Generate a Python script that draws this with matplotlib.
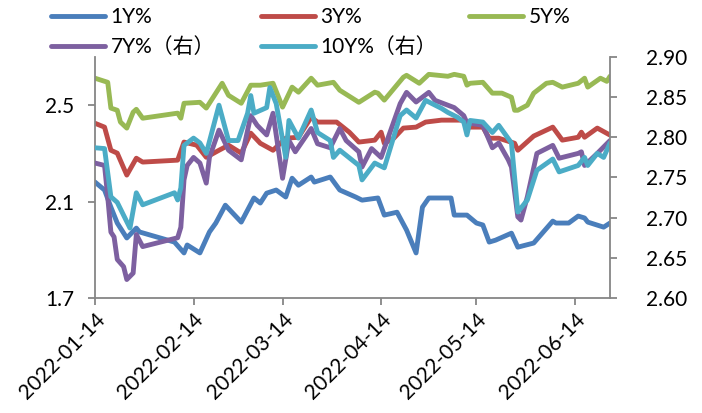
import matplotlib
matplotlib.use("Agg")
import matplotlib.pyplot as plt
import matplotlib.dates as mdates
import pandas as pd

plt.rcParams['font.family'] = ['Lato', 'Noto Sans CJK SC', 'DejaVu Sans']

# ---------------- data ----------------
dates_1y = ["2022-01-14","2022-01-17","2022-01-19","2022-01-21","2022-01-24","2022-01-27","2022-01-28",
            "2022-02-08","2022-02-11","2022-02-12","2022-02-16","2022-02-19","2022-02-21","2022-02-24",
            "2022-03-01","2022-03-05","2022-03-07","2022-03-09","2022-03-12","2022-03-15","2022-03-17",
            "2022-03-19","2022-03-23","2022-03-24","2022-03-29","2022-04-01","2022-04-06","2022-04-08",
            "2022-04-13","2022-04-15","2022-04-19","2022-04-22","2022-04-25","2022-04-27","2022-04-29",
            "2022-05-06","2022-05-07","2022-05-11","2022-05-14","2022-05-16","2022-05-18","2022-05-20",
            "2022-05-25","2022-05-27","2022-06-01","2022-06-07","2022-06-08","2022-06-12","2022-06-15",
            "2022-06-17","2022-06-18","2022-06-23","2022-06-25"]
y_1y = [2.181,2.148,2.077,2.011,1.949,1.990,1.974,1.932,1.887,1.920,1.887,1.974,2.011,2.085,2.015,2.115,
        2.094,2.135,2.148,2.119,2.197,2.168,2.202,2.181,2.202,2.148,2.119,2.106,2.115,2.044,2.056,1.982,
        1.887,2.077,2.115,2.115,2.044,2.044,2.011,2.003,1.932,1.940,1.969,1.911,1.928,2.019,2.011,2.011,
        2.040,2.032,2.015,1.994,2.011]

dates_3y = ["2022-01-14","2022-01-17","2022-01-19","2022-01-21","2022-01-24","2022-01-27","2022-01-29",
            "2022-02-09","2022-02-11","2022-02-15","2022-02-18","2022-02-22","2022-02-25","2022-03-01",
            "2022-03-04","2022-03-07","2022-03-11","2022-03-15","2022-03-19","2022-03-23","2022-03-25",
            "2022-03-31","2022-04-04","2022-04-07","2022-04-12","2022-04-14","2022-04-15","2022-04-18",
            "2022-04-21","2022-04-25","2022-04-28","2022-05-03","2022-05-10","2022-05-12","2022-05-16",
            "2022-05-18","2022-05-21","2022-05-26","2022-05-27","2022-06-01","2022-06-07","2022-06-10",
            "2022-06-15","2022-06-16","2022-06-17","2022-06-21","2022-06-25"]
y_3y = [2.425,2.409,2.313,2.301,2.210,2.280,2.264,2.272,2.347,2.334,2.284,2.313,2.334,2.301,2.384,2.342,
        2.313,2.363,2.367,2.450,2.430,2.430,2.388,2.347,2.355,2.388,2.342,2.363,2.405,2.409,2.430,2.438,
        2.438,2.409,2.409,2.363,2.363,2.342,2.313,2.372,2.409,2.355,2.367,2.388,2.367,2.405,2.376]

dates_5y = ["2022-01-14","2022-01-18","2022-01-19","2022-01-21","2022-01-22","2022-01-24","2022-01-26",
            "2022-01-27","2022-01-29","2022-02-09","2022-02-10","2022-02-11","2022-02-16","2022-02-18",
            "2022-02-23","2022-02-25","2022-03-01","2022-03-04","2022-03-07","2022-03-11","2022-03-14",
            "2022-03-17","2022-03-19","2022-03-23","2022-03-25","2022-03-30","2022-04-01","2022-04-07",
            "2022-04-12","2022-04-13","2022-04-15","2022-04-21","2022-04-22","2022-04-26","2022-04-29",
            "2022-05-05","2022-05-07","2022-05-10","2022-05-11","2022-05-12","2022-05-16","2022-05-19",
            "2022-05-22","2022-05-25","2022-05-26","2022-05-27","2022-05-30","2022-06-01","2022-06-05",
            "2022-06-07","2022-06-10","2022-06-15","2022-06-17","2022-06-18","2022-06-22","2022-06-24",
            "2022-06-25"]
y_5y = [2.612,2.595,2.488,2.479,2.430,2.405,2.471,2.483,2.446,2.467,2.446,2.508,2.512,2.488,2.591,2.541,
        2.508,2.583,2.583,2.591,2.492,2.575,2.554,2.612,2.583,2.595,2.562,2.512,2.554,2.550,2.521,2.616,
        2.624,2.591,2.628,2.620,2.628,2.620,2.583,2.591,2.595,2.550,2.550,2.533,2.479,2.479,2.500,2.550,
        2.591,2.595,2.575,2.591,2.612,2.575,2.612,2.599,2.620]

dates_7y = ["2022-01-14","2022-01-17","2022-01-18","2022-01-19","2022-01-20","2022-01-21","2022-01-23",
            "2022-01-24","2022-01-26","2022-01-27","2022-01-29","2022-02-09","2022-02-10","2022-02-11",
            "2022-02-12","2022-02-14","2022-02-16","2022-02-18","2022-02-19","2022-02-22","2022-02-25",
            "2022-03-01","2022-03-04","2022-03-06","2022-03-09","2022-03-11","2022-03-14","2022-03-16",
            "2022-03-18","2022-03-23","2022-03-25","2022-03-29","2022-04-01","2022-04-03","2022-04-07",
            "2022-04-08","2022-04-11","2022-04-14","2022-04-20","2022-04-22","2022-04-25","2022-04-29",
            "2022-05-01","2022-05-05","2022-05-07","2022-05-10","2022-05-11","2022-05-16","2022-05-19",
            "2022-05-21","2022-05-24","2022-05-25","2022-05-27","2022-05-28","2022-05-30","2022-06-02",
            "2022-06-05","2022-06-07","2022-06-09","2022-06-15","2022-06-16","2022-06-17","2022-06-21",
            "2022-06-25"]
y_7y = [2.768,2.765,2.726,2.682,2.676,2.648,2.639,2.623,2.631,2.679,2.664,2.675,2.688,2.747,2.765,2.775,
        2.768,2.743,2.775,2.809,2.784,2.772,2.827,2.815,2.803,2.830,2.749,2.796,2.782,2.811,2.792,2.787,
        2.811,2.796,2.782,2.763,2.786,2.775,2.842,2.856,2.844,2.856,2.846,2.840,2.837,2.827,2.818,2.815,
        2.787,2.793,2.772,2.763,2.701,2.697,2.726,2.780,2.786,2.790,2.774,2.780,2.782,2.765,2.780,2.796]

dates_10y = ["2022-01-14","2022-01-17","2022-01-19","2022-01-21","2022-01-25","2022-01-27","2022-01-29",
             "2022-02-08","2022-02-09","2022-02-10","2022-02-11","2022-02-14","2022-02-16","2022-02-18",
             "2022-02-22","2022-02-25","2022-02-28","2022-03-03","2022-03-04","2022-03-05","2022-03-09",
             "2022-03-10","2022-03-12","2022-03-15","2022-03-16","2022-03-19","2022-03-23","2022-03-25",
             "2022-03-29","2022-03-30","2022-04-01","2022-04-07","2022-04-08","2022-04-12","2022-04-15",
             "2022-04-20","2022-04-22","2022-04-25","2022-04-28","2022-05-03","2022-05-05","2022-05-08",
             "2022-05-10","2022-05-11","2022-05-12","2022-05-16","2022-05-19","2022-05-21","2022-05-25",
             "2022-05-27","2022-05-30","2022-06-02","2022-06-07","2022-06-09","2022-06-15","2022-06-17",
             "2022-06-18","2022-06-21","2022-06-23","2022-06-25"]
y_10y = [2.787,2.786,2.726,2.719,2.687,2.731,2.716,2.731,2.722,2.737,2.790,2.799,2.793,2.780,2.840,2.796,
         2.796,2.830,2.852,2.830,2.837,2.862,2.842,2.775,2.821,2.799,2.834,2.806,2.796,2.775,2.784,2.765,
         2.747,2.768,2.762,2.827,2.834,2.824,2.846,2.836,2.831,2.825,2.819,2.803,2.821,2.819,2.806,2.815,
         2.793,2.707,2.722,2.759,2.773,2.757,2.765,2.775,2.765,2.780,2.775,2.793]

labels = ["1Y%", "3Y%", "5Y%", "7Y%（右）", "10Y%（右）"]
colors = ["#4A7EBB", "#BE4B48", "#98B954", "#7D60A0", "#4BACC6"]
tick_dates = ["2022-01-14", "2022-02-14", "2022-03-14", "2022-04-14", "2022-05-14", "2022-06-14"]
x_start, x_end = "2022-01-14", "2022-06-25"
left_ticks = [1.7, 2.1, 2.5]
right_ticks = [2.60, 2.65, 2.70, 2.75, 2.80, 2.85, 2.90]

# ---------------- figure ----------------
fig = plt.figure(figsize=(7.02, 4.13), dpi=100)
ax = fig.add_axes([95/702, 1-298/413, (610-95)/702, (298-57)/413])
ax2 = ax.twinx()

lw = 3.5
kw = dict(lw=lw, solid_capstyle='round', solid_joinstyle='round')
td = pd.to_datetime
l1, = ax.plot(td(dates_1y), y_1y, color=colors[0], label=labels[0], **kw)
l3, = ax.plot(td(dates_3y), y_3y, color=colors[1], label=labels[1], **kw)
l5, = ax.plot(td(dates_5y), y_5y, color=colors[2], label=labels[2], **kw)
l7, = ax2.plot(td(dates_7y), y_7y, color=colors[3], label=labels[3], **kw)
l10, = ax2.plot(td(dates_10y), y_10y, color=colors[4], label=labels[4], **kw)

ax.set_xlim(td(x_start), td(x_end))
ax.set_ylim(1.7, 2.7)
ax2.set_ylim(2.60, 2.90)
ax.set_yticks(left_ticks)
ax.set_yticklabels([f"{v:.1f}" for v in left_ticks])
ax2.set_yticks(right_ticks)
ax2.set_yticklabels([f"{v:.2f}" for v in right_ticks])
ax.set_xticks(td(tick_dates))
ax.xaxis.set_major_formatter(mdates.DateFormatter('%Y-%m-%d'))

axis_col = "#868686"
fs = 15
for a in (ax, ax2):
    for s in a.spines.values():
        s.set_color(axis_col)
        s.set_linewidth(1.3)
    a.spines['top'].set_visible(False)
ax.spines['right'].set_visible(False)
ax2.spines['left'].set_visible(False)
ax2.spines['bottom'].set_visible(False)

ax.tick_params(axis='y', direction='out', length=5, width=1.3, color=axis_col,
               labelsize=fs, pad=10)
ax2.tick_params(axis='y', direction='out', length=5, width=1.3, color=axis_col,
                labelsize=fs, pad=21)
ax.tick_params(axis='x', direction='out', length=5, width=1.3, color=axis_col,
               labelsize=fs, pad=3)
for t in ax.get_xticklabels():
    t.set_rotation(45)
    t.set_ha('right')
    t.set_va('top')
    t.set_rotation_mode('anchor')

# legend: three columns
common = dict(frameon=False, fontsize=fs, loc='upper left', borderpad=0, borderaxespad=0,
              handlelength=2.6, handletextpad=0.25, labelspacing=0.5)
top = 1 - 7/413
leg1 = fig.legend(handles=[l1, l7], bbox_to_anchor=(51/702, top), **common)
leg2 = fig.legend(handles=[l3, l10], bbox_to_anchor=(261/702, top), **common)
leg3 = fig.legend(handles=[l5], bbox_to_anchor=(469/702, top), **common)

fig.savefig("out.png", dpi=100)
